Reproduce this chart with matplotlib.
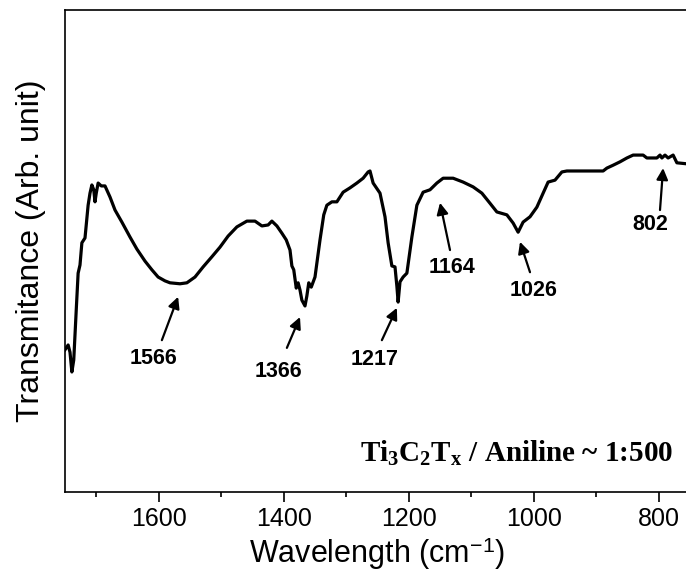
import matplotlib
matplotlib.use('Agg')
import matplotlib.pyplot as plt
from matplotlib.ticker import MultipleLocator

## FTIR spectrum, Ti3C2Tx / aniline
wavenumber = [1750, 1745, 1742, 1739, 1736, 1732, 1729, 1726, 1723, 1718,
              1713, 1710, 1707, 1704, 1702, 1700, 1697, 1692, 1686, 1678,
              1670, 1659, 1646, 1635, 1622, 1611, 1601, 1590, 1582, 1566,
              1555, 1542, 1529, 1515, 1502, 1489, 1475, 1459, 1446, 1435,
              1425, 1419, 1411, 1403, 1396, 1390, 1387, 1384, 1380, 1377,
              1374, 1371, 1366, 1363, 1360, 1356, 1350, 1342, 1336, 1331,
              1323, 1315, 1305, 1294, 1283, 1273, 1265, 1262, 1257, 1246,
              1238, 1233, 1227, 1222, 1219, 1217, 1214, 1209, 1203, 1195,
              1187, 1177, 1166, 1155, 1145, 1129, 1113, 1097, 1083, 1070,
              1059, 1043, 1033, 1025, 1017, 1006, 995, 985, 977, 966,
              955, 947, 918, 889, 883, 873, 862, 851, 841, 825,
              819, 803, 798, 795, 790, 785, 777, 771, 756, 750]
transmittance = [29.5, 30.5, 29.0, 24.9, 27.4, 37.8, 45.4, 47.1, 51.7, 52.7,
                 59.5, 62.0, 63.7, 62.7, 60.2, 62.0, 64.1, 63.5, 63.5, 61.2,
                 58.5, 56.0, 52.9, 50.4, 47.9, 46.1, 44.6, 43.8, 43.4, 43.2,
                 43.4, 44.6, 46.7, 48.8, 50.8, 53.1, 55.0, 56.2, 56.2, 55.2,
                 55.4, 56.2, 55.2, 53.7, 52.3, 50.2, 46.9, 46.1, 42.3, 43.4,
                 41.9, 39.8, 38.6, 40.7, 43.4, 42.5, 44.6, 52.3, 57.5, 59.5,
                 60.2, 60.2, 62.2, 63.1, 64.1, 65.1, 66.4, 66.6, 64.1, 62.0,
                 57.1, 51.7, 46.9, 46.7, 42.7, 39.4, 43.6, 44.6, 45.4, 52.9,
                 59.5, 62.2, 62.7, 64.1, 65.1, 65.1, 64.3, 63.3, 62.0, 59.9,
                 58.1, 57.5, 55.8, 53.9, 56.0, 57.1, 59.1, 62.0, 64.3, 64.7,
                 66.4, 66.6, 66.6, 66.6, 67.2, 67.8, 68.5, 69.3, 69.9, 69.9,
                 69.3, 69.3, 69.9, 69.3, 69.9, 69.3, 69.9, 68.3, 68.1, 68.1]

# peak labels: label, arrow head (w, T), arrow tail (w, T), text centre (w, T)
peak_labels = ['1566', '1366', '1217', '1164', '1026', '802']
arrow_head = [(1569, 40.5), (1374, 36.3), (1219, 38.2), (1150, 60.0), (1022, 51.9), (793, 67.2)]
arrow_tail = [(1595, 31.5), (1395, 29.9), (1243, 31.5), (1134, 50.2), (1006, 45.6), (798, 58.5)]
label_pos = [(1609, 27.8), (1409, 24.9), (1254, 27.4), (1131, 46.5), (1001, 41.9), (814, 55.4)]

plt.rcParams['font.family'] = ['Liberation Sans', 'DejaVu Sans']
plt.rcParams['mathtext.fontset'] = 'custom'
plt.rcParams['mathtext.rm'] = 'Liberation Serif:bold'
plt.rcParams['mathtext.it'] = 'Liberation Serif:bold'
plt.rcParams['mathtext.bf'] = 'Liberation Serif:bold'
plt.rcParams['mathtext.sf'] = 'Liberation Sans'

fig = plt.figure(figsize=(6.86, 5.81), dpi=100)
ax = fig.add_axes([65/686, 89/581, 625/686, 482/581])

ax.plot(wavenumber, transmittance, color='black', linewidth=2.3)

for lab, head, tail, pos in zip(peak_labels, arrow_head, arrow_tail, label_pos):
    ax.annotate('', xy=head, xytext=tail,
                arrowprops=dict(arrowstyle='-|>', color='black', lw=1.6,
                                mutation_scale=17, shrinkA=0, shrinkB=0))
    ax.text(pos[0], pos[1], lab, fontsize=15.5, fontweight='bold',
            ha='center', va='center')

ax.text(0.973, 0.062, r'Ti$_3$C$_2$T$_\mathrm{x}$ / Aniline ~ 1:500',
        transform=ax.transAxes, ha='right', va='baseline',
        fontsize=21, fontweight='bold', family='Liberation Serif')

ax.set_xlim(1750, 750)
ax.set_ylim(0, 100)
ax.xaxis.set_major_locator(MultipleLocator(200))
ax.xaxis.set_minor_locator(MultipleLocator(100))
ax.set_yticks([])
ax.tick_params(axis='x', which='major', direction='out', length=7, width=1.2,
               labelsize=18, pad=4)
ax.tick_params(axis='x', which='minor', direction='out', length=3.6, width=1.2)
for s in ax.spines.values():
    s.set_linewidth(1.2)

ax.set_xlabel(r'Wavelength (cm$^{\mathsf{-1}}$)', fontsize=22, labelpad=3)
ax.set_ylabel('Transmitance (Arb. unit)', fontsize=23, labelpad=14)

plt.savefig('out.png', dpi=100)
